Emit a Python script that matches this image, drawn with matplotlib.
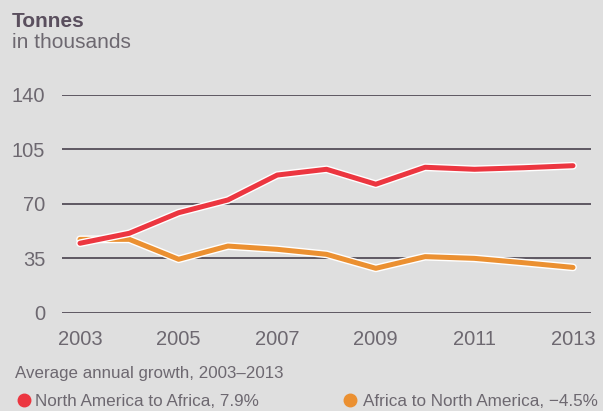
import matplotlib.pyplot as plt
import matplotlib.patheffects as pe
from matplotlib import font_manager

years = [2003, 2004, 2005, 2006, 2007, 2008, 2009, 2010, 2011, 2012, 2013]
na_to_africa = [44.6, 51.0, 64.2, 72.4, 88.4, 92.1, 82.5, 93.4, 92.1, 93.1, 94.4]
africa_to_na = [47.1, 47.1, 34.3, 42.8, 40.7, 37.5, 28.5, 36.0, 34.9, 32.1, 29.1]
yticks = [0, 35, 70, 105, 140]
xticks = [2003, 2005, 2007, 2009, 2011, 2013]

bg = '#dfdfdf'
red = '#ec3640'
orange = '#eb9031'
grid_c = '#5e5862'
txt_c = '#6d6870'

names = {f.name for f in font_manager.fontManager.ttflist}
narrow = 'Liberation Sans Narrow' if 'Liberation Sans Narrow' in names else 'Liberation Sans'
tick_size = 16.5 if narrow == 'Liberation Sans Narrow' else 14.5
plt.rcParams['font.family'] = ['Liberation Sans', 'DejaVu Sans']

fig = plt.figure(figsize=(6.03, 4.11), dpi=100, facecolor=bg)
ax = fig.add_axes([62 / 603, 1 - 312.7 / 411, 529 / 603, 218 / 411])
ax.set_facecolor(bg)

ax.set_ylim(0, 140)
ax.set_xlim(2003 - 18 / 49.3, 2013 + 18 / 49.3)
for y in yticks:
    ax.axhline(y, color=grid_c, lw=1.4, zorder=1)

ax.plot(years, africa_to_na, color=orange, lw=3.6, solid_capstyle='round', zorder=3,
        path_effects=[pe.Stroke(linewidth=5.6, foreground='white'), pe.Normal()])
ax.plot(years, na_to_africa, color=red, lw=3.6, solid_capstyle='round', zorder=4,
        path_effects=[pe.Stroke(linewidth=5.6, foreground='white'), pe.Normal()])

for s in ax.spines.values():
    s.set_visible(False)
ax.set_yticks(yticks)
ax.set_xticks(xticks)
ax.tick_params(length=0, colors=txt_c)
ax.tick_params(axis='y', pad=12)
ax.tick_params(axis='x', pad=12.5)
for lab in ax.get_xticklabels() + ax.get_yticklabels():
    lab.set_fontfamily(narrow)
    lab.set_fontsize(tick_size)
    lab.set_color(txt_c)

fig.text(12 / 603, 1 - 27 / 411, 'Tonnes', fontsize=15, fontweight='bold', color='#5a4f5e', va='baseline')
fig.text(12 / 603, 1 - 48 / 411, 'in thousands', fontsize=15, color=txt_c, va='baseline')
fig.text(15 / 603, 1 - 378 / 411, 'Average annual growth, 2003\u20132013', fontsize=12.2, color=txt_c, va='baseline')

fig.lines.append(plt.Line2D([24 / 603], [1 - 400 / 411], marker='o', ms=9, color=red, mec=red, transform=fig.transFigure))
fig.lines.append(plt.Line2D([350 / 603], [1 - 400 / 411], marker='o', ms=9, color=orange, mec=orange, transform=fig.transFigure))
fig.text(35 / 603, 1 - 406 / 411, 'North America to Africa, 7.9%', fontsize=12.3, color=txt_c, va='baseline')
fig.text(363 / 603, 1 - 406 / 411, 'Africa to North America, \u22124.5%', fontsize=12.3, color=txt_c, va='baseline')

fig.savefig('out.png', dpi=100, facecolor=bg)
